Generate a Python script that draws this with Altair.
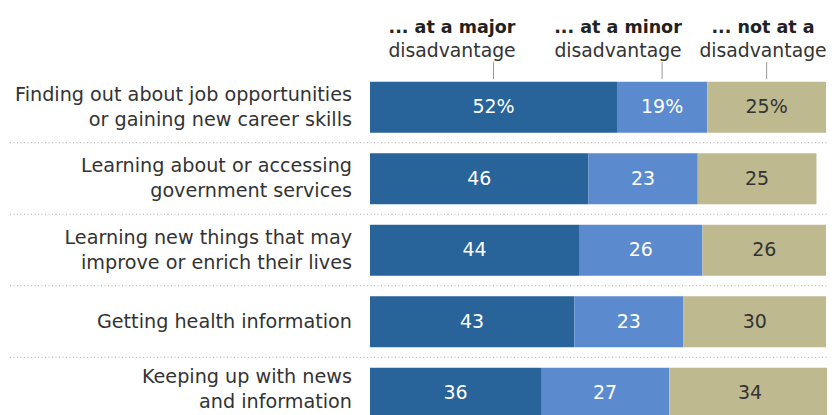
import altair as alt
import pandas as pd

categories = [
    "Finding out about job opportunities|or gaining new career skills",
    "Learning about or accessing|government services",
    "Learning new things that may|improve or enrich their lives",
    "Getting health information",
    "Keeping up with news|and information",
]
series = ["major", "minor", "not"]
major = [52, 46, 44, 43, 36]
minor = [19, 23, 26, 23, 27]
not_at = [25, 25, 26, 30, 34]
header_top = ["... at a major", "... at a minor", "... not at a"]
header_bottom = ["disadvantage", "disadvantage", "disadvantage"]

colors = ["#286399", "#5B8BCE", "#BFB98F"]
FONT = "DejaVu Sans"

rows = []
for i, cat in enumerate(categories):
    start = 0
    for s, vals in zip(series, [major, minor, not_at]):
        v = vals[i]
        rows.append({
            "cat": cat, "series": s, "value": v,
            "start": start, "end": start + v, "mid": start + v / 2,
            "label": f"{v}%" if i == 0 else f"{v}",
        })
        start += v
df = pd.DataFrame(rows)
cat_df = pd.DataFrame({"cat": categories, "idx": list(range(len(categories)))})
cat_df["two"] = cat_df["cat"].str.contains("|", regex=False)
last = len(categories) - 1
hdr_x = [444, 610, 755]

xscale = alt.Scale(domain=[0, 100], range=[362, 837])
yscale = alt.Scale(domain=categories, range=[63.5, 421], paddingInner=0.287, paddingOuter=0.1435)
color_scale = alt.Scale(domain=series, range=colors)

base = alt.Chart(df)

bars = base.mark_bar().encode(
    x=alt.X("start:Q", scale=xscale, axis=None),
    x2="end:Q",
    y=alt.Y("cat:N", scale=yscale, axis=None),
    color=alt.Color("series:N", scale=color_scale, legend=None),
)

bar_text = base.mark_text(fontSize=19, font=FONT, baseline="middle").encode(
    x=alt.X("mid:Q"),
    y=alt.Y("cat:N"),
    text="label:N",
    color=alt.condition(alt.datum.series == "not", alt.value("#333333"), alt.value("#ffffff")),
)

seps = alt.Chart(cat_df[cat_df["idx"] > 0]).mark_rule(
    yOffset=-36, strokeDash=[1, 2.5], color="#aaaaaa", strokeWidth=1
).encode(
    y=alt.Y("cat:N"),
    x=alt.value(2),
    x2=alt.value(827),
)

label_style = dict(align="right", baseline="middle", lineBreak="|", fontSize=19.2,
                   font=FONT, color="#333333", lineHeight=25)

two_df = cat_df[cat_df["two"] & (cat_df["idx"] != last)]
last_df = cat_df[cat_df["idx"] == last]
one_df = cat_df[~cat_df["two"]]

cat_labels_two = alt.Chart(two_df).mark_text(dy=-12.5, **label_style).encode(
    y=alt.Y("cat:N"), x=alt.value(344), text="cat:N",
)
cat_labels_last = alt.Chart(last_df).mark_text(dy=-16, **label_style).encode(
    y=alt.Y("cat:N"), x=alt.value(344), text="cat:N",
)
cat_labels_one = alt.Chart(one_df).mark_text(**label_style).encode(
    y=alt.Y("cat:N"), x=alt.value(344), text="cat:N",
)

ticks = alt.Chart(df[df["cat"] == categories[0]]).mark_rule(color="#999999", strokeWidth=1).encode(
    x=alt.X("mid:Q"),
    y=alt.value(54),
    y2=alt.value(71),
)

layers = [bars, seps, bar_text, cat_labels_two, cat_labels_last, cat_labels_one, ticks]
for top, bottom, px in zip(header_top, header_bottom, hdr_x):
    layers.append(alt.Chart(cat_df.head(1)).mark_text(
        fontSize=17.5, font=FONT, fontWeight="bold", color="#222222", baseline="alphabetic"
    ).encode(x=alt.value(px), y=alt.value(25), text=alt.value(top)))
    layers.append(alt.Chart(cat_df.head(1)).mark_text(
        fontSize=18.8, font=FONT, color="#333333", baseline="alphabetic"
    ).encode(x=alt.value(px), y=alt.value(49), text=alt.value(bottom)))

chart = alt.layer(*layers).properties(
    width=819, height=407, autosize=alt.AutoSizeParams(type="none"), padding=0
).configure_view(stroke=None)

chart.save("out.html", embed_options={"renderer": "svg", "actions": False})
